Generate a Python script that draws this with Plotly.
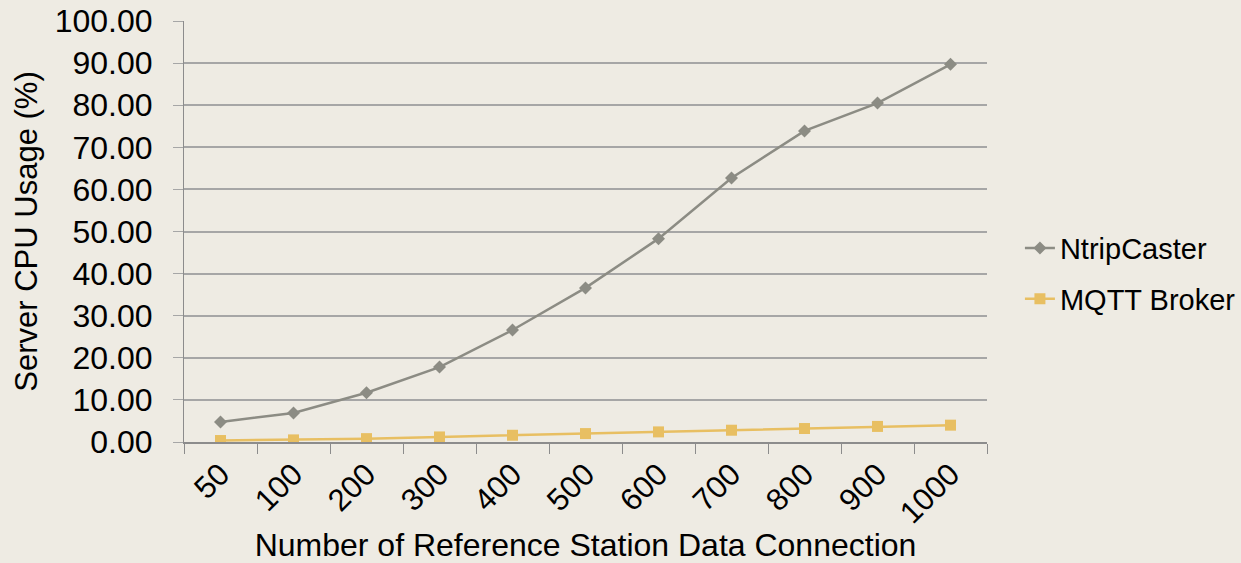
import plotly.graph_objects as go

categories = ["50", "100", "200", "300", "400", "500", "600", "700", "800", "900", "1000"]
ntrip = [4.75, 6.9, 11.7, 17.8, 26.6, 36.6, 48.3, 62.7, 73.9, 80.5, 89.7]
mqtt = [0.35, 0.5, 0.8, 1.2, 1.6, 2.0, 2.4, 2.8, 3.2, 3.7, 4.0]

bg = "#EEEBE3"
fig = go.Figure()
fig.add_trace(go.Scatter(x=categories, y=ntrip, name="NtripCaster", mode="lines+markers",
                         legendgroup="a",
                         line=dict(color="#8C8C84", width=2.5),
                         marker=dict(symbol="diamond", size=10, color="#8C8C84")))
fig.add_trace(go.Scatter(x=categories, y=mqtt, name="MQTT Broker", mode="lines+markers",
                         legendgroup="b",
                         line=dict(color="#E8BF62", width=2.5),
                         marker=dict(symbol="square", size=11, color="#E8BF62")))

fig.update_layout(
    width=1241, height=563,
    paper_bgcolor=bg, plot_bgcolor=bg,
    margin=dict(l=184, r=254, t=21, b=121, autoexpand=False),
    font=dict(family="Liberation Sans, Arial, sans-serif", size=29, color="#000000"),
    legend=dict(x=1.041, y=0.40, yanchor="middle", xanchor="left",
                font=dict(size=29), bgcolor="rgba(0,0,0,0)", tracegroupgap=10),
    showlegend=True,
)
fig.update_xaxes(
    type="category", range=[-0.5, len(categories) - 0.5],
    tickangle=-45, tickson="boundaries", ticks="outside", ticklen=10,
    tickcolor="#8C8C8C", showline=True, linecolor="#8C8C8C", linewidth=1.5,
    showgrid=False, tickfont=dict(size=31), automargin=False,
    title=dict(text="Number of Reference Station Data Connection",
               font=dict(size=32), standoff=0),
)
fig.update_yaxes(
    range=[0, 100], dtick=10, tickformat=".2f", ticks="outside", ticklen=10,
    tickcolor="#A6A6A6", showline=True, linecolor="#8C8C8C", linewidth=1,
    showgrid=True, gridcolor="#A6A6A6", gridwidth=1.5, zeroline=False,
    tickfont=dict(size=32), ticklabelstandoff=14, automargin=False,
    title=dict(text="Server CPU Usage (%)", font=dict(size=31), standoff=7),
)
fig.write_html("out.html", config={"displayModeBar": False},
               post_script="document.body.style.margin='0';")
